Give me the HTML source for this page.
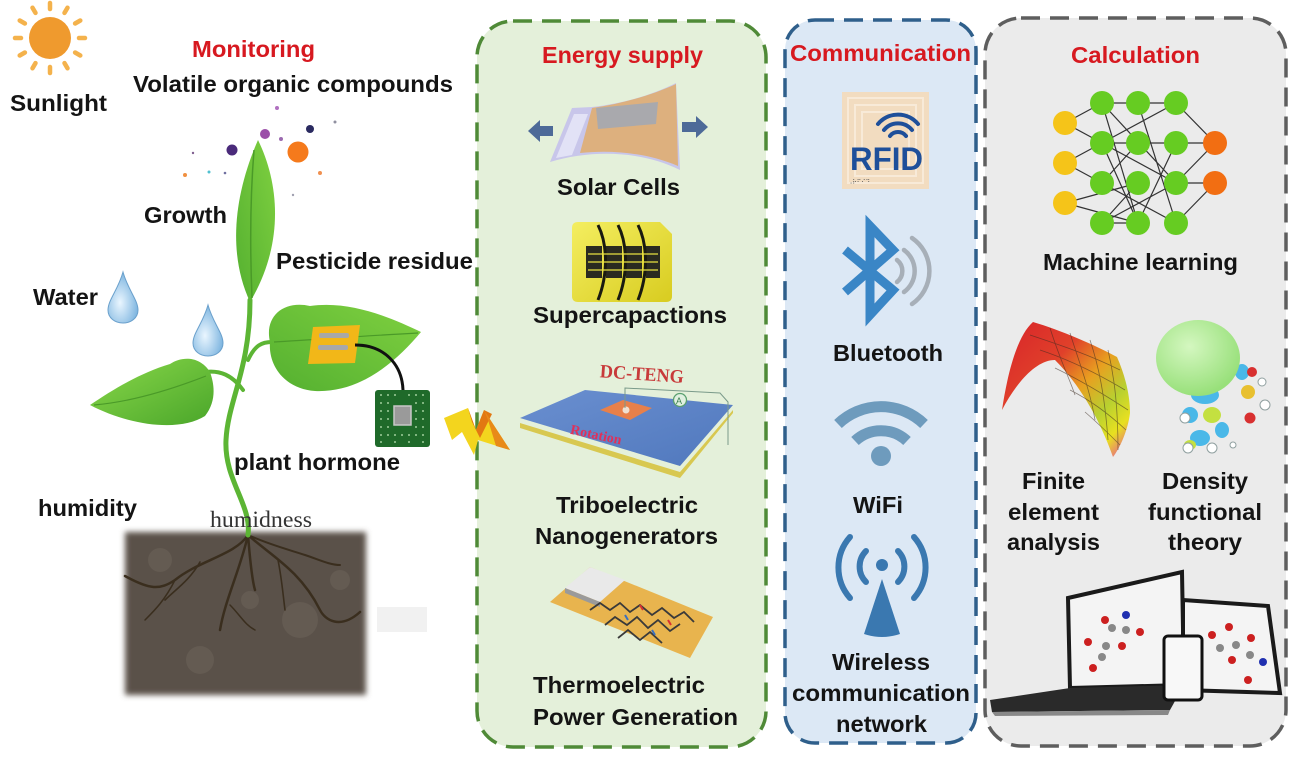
<!DOCTYPE html>
<html><head><meta charset="utf-8"><style>
html,body{margin:0;padding:0;background:#fff;}
svg{display:block;}
.t{font-family:"Liberation Sans",Arial,sans-serif;font-weight:bold;font-size:23px;fill:#141414;}
.r{fill:#d71920;}
</style></head><body>
<svg width="1301" height="760" viewBox="0 0 1301 760" xmlns="http://www.w3.org/2000/svg">
<defs>
<linearGradient id="leafG" x1="0" y1="0" x2="1" y2="1"><stop offset="0" stop-color="#8ad84a"/><stop offset="1" stop-color="#4aa62a"/></linearGradient>
<linearGradient id="leafG2" x1="1" y1="0" x2="0" y2="1"><stop offset="0" stop-color="#7fd040"/><stop offset="1" stop-color="#54b030"/></linearGradient>
<radialGradient id="drop" cx="0.4" cy="0.6" r="0.6"><stop offset="0" stop-color="#eaf6ff"/><stop offset="1" stop-color="#7fb6e0"/></radialGradient>
<filter id="blur" x="-10%" y="-10%" width="120%" height="120%"><feGaussianBlur stdDeviation="3"/></filter>
<linearGradient id="fea" x1="0" y1="0" x2="1" y2="1"><stop offset="0" stop-color="#d8232a"/><stop offset="0.35" stop-color="#e0402a"/><stop offset="0.55" stop-color="#e8a020"/><stop offset="0.72" stop-color="#b8d030"/><stop offset="0.85" stop-color="#e8e020"/><stop offset="1" stop-color="#e83ab0"/></linearGradient>
<radialGradient id="dftG" cx="0.4" cy="0.35" r="0.65"><stop offset="0" stop-color="#d4f7c0"/><stop offset="1" stop-color="#98e07a"/></radialGradient>
<linearGradient id="capG" x1="0" y1="0" x2="1" y2="1"><stop offset="0" stop-color="#f4ee60"/><stop offset="1" stop-color="#d8cc20"/></linearGradient>
<linearGradient id="tengG" x1="0" y1="0" x2="1" y2="1"><stop offset="0" stop-color="#6a8fd0"/><stop offset="1" stop-color="#5078bd"/></linearGradient>
</defs>

<!-- panels -->
<rect x="477" y="21" width="289" height="726" rx="36" fill="#e4f0da" stroke="#4f8a37" stroke-width="3.5" stroke-dasharray="19 10"/>
<rect x="785" y="20" width="191" height="723" rx="30" fill="#dce8f5" stroke="#2f5f8b" stroke-width="3.5" stroke-dasharray="19 10"/>
<rect x="985" y="18" width="301" height="728" rx="36" fill="#ebebeb" stroke="#5e5e5e" stroke-width="3.5" stroke-dasharray="19 10"/>

<!-- sun -->
<g stroke="#f4b24c" stroke-width="4.5" stroke-linecap="round">
<line x1="50" y1="3" x2="50" y2="9"/><line x1="50" y1="67" x2="50" y2="73"/>
<line x1="15" y1="38" x2="21" y2="38"/><line x1="79" y1="38" x2="85" y2="38"/>
<line x1="67.5" y1="7.7" x2="64.5" y2="12.9"/><line x1="32.5" y1="68.3" x2="35.5" y2="63.1"/>
<line x1="80.3" y1="20.5" x2="75.1" y2="23.5"/><line x1="19.7" y1="55.5" x2="24.9" y2="52.5"/>
<line x1="80.3" y1="55.5" x2="75.1" y2="52.5"/><line x1="19.7" y1="20.5" x2="24.9" y2="23.5"/>
<line x1="67.5" y1="68.3" x2="64.5" y2="63.1"/><line x1="32.5" y1="7.7" x2="35.5" y2="12.9"/>
</g>
<circle cx="50" cy="38" r="21" fill="#ef9a2e"/>

<!-- VOC dots -->
<circle cx="265" cy="134" r="5" fill="#9b4ea8"/>
<circle cx="232" cy="150" r="5.5" fill="#4a2a7a"/>
<circle cx="298" cy="152" r="10.5" fill="#f57a1c"/>
<circle cx="310" cy="129" r="4" fill="#2a2a60"/>
<circle cx="277" cy="108" r="2" fill="#b070c0"/>
<circle cx="185" cy="175" r="2" fill="#f09040"/>
<circle cx="209" cy="172" r="1.5" fill="#50c0d0"/>
<circle cx="193" cy="153" r="1.2" fill="#806090"/>
<circle cx="320" cy="173" r="2" fill="#f09050"/>
<circle cx="281" cy="139" r="2" fill="#9b6ab0"/>
<circle cx="335" cy="122" r="1.5" fill="#9090a0"/>
<circle cx="293" cy="195" r="1.2" fill="#a0a0b0"/>
<circle cx="225" cy="173" r="1.3" fill="#7070a0"/>

<!-- soil -->
<rect x="125" y="532" width="241" height="163" fill="#5a514a" filter="url(#blur)"/>
<g fill="#6b6258" opacity="0.6">
<circle cx="160" cy="560" r="12"/><circle cx="300" cy="620" r="18"/><circle cx="200" cy="660" r="14"/><circle cx="340" cy="580" r="10"/><circle cx="250" cy="600" r="9"/>
</g>
<rect x="377" y="607" width="50" height="25" fill="#f1f1f1"/>
<!-- roots -->
<g fill="none" stroke="#3a2e1e" stroke-linecap="round">
<path d="M248,535 C235,555 200,560 175,580 C160,590 150,590 125,576" stroke-width="2.5"/>
<path d="M248,535 C240,570 225,600 220,630" stroke-width="2.5"/>
<path d="M248,535 C250,560 252,580 255,590" stroke-width="2.5"/>
<path d="M248,535 C270,555 300,570 320,610 C325,620 340,630 360,612" stroke-width="2.5"/>
<path d="M248,535 C270,545 290,550 305,555 C320,560 330,565 340,565" stroke-width="2"/>
<path d="M200,562 C190,580 175,590 165,600" stroke-width="1.6"/>
<path d="M278,560 C282,580 283,595 285,610" stroke-width="1.6"/>
<path d="M175,580 C165,600 155,610 145,620" stroke-width="1.5"/>
<path d="M230,605 C240,615 245,625 255,630" stroke-width="1.5"/>
</g>

<!-- stem -->
<g fill="none" stroke="#5cb534" stroke-linecap="round">
<path d="M248,535 C252,505 224,480 226,440 C228,400 250,370 250,300" stroke-width="5"/>
<path d="M243,390 C232,375 220,370 205,372" stroke-width="4"/>
<path d="M248,360 C255,345 262,342 272,342" stroke-width="4"/>
</g>
<!-- leaves -->
<path d="M250,302 C226,250 236,190 258,140 C280,185 284,245 250,302 Z" fill="url(#leafG2)"/>
<path d="M254,150 C250,200 250,250 252,298" stroke="#4a9a28" stroke-width="1.5" fill="none"/>
<path d="M210,372 C200,356 182,356 170,364 C140,373 112,390 90,405 C130,426 180,432 205,416 C216,402 215,386 210,372 Z" fill="url(#leafG)"/>
<path d="M206,376 C170,390 130,402 94,405" stroke="#4a9a28" stroke-width="1.2" fill="none"/>
<path d="M270,342 C264,316 284,300 310,306 C350,300 392,318 421,332 C396,362 360,393 315,391 C285,389 268,366 270,342 Z" fill="url(#leafG2)"/>
<path d="M274,342 C310,340 360,336 418,333" stroke="#4a9a28" stroke-width="1.2" fill="none"/>
<!-- drops -->
<path d="M123,272 C118,290 108,300 108,310 C108,318 115,323 123,323 C131,323 138,318 138,310 C138,300 128,290 123,272 Z" fill="url(#drop)" stroke="#6aa0cc" stroke-width="1"/>
<path d="M208,305 C203,323 193,333 193,343 C193,351 200,356 208,356 C216,356 223,351 223,343 C223,333 213,323 208,305 Z" fill="url(#drop)" stroke="#6aa0cc" stroke-width="1"/>
<!-- sensor -->
<polygon points="313,327 360,325 355,363 308,364" fill="#f2b718"/>
<rect x="319" y="333" width="30" height="5" rx="2" fill="#a8a8a8"/>
<rect x="318" y="345" width="30" height="5" rx="2" fill="#a8a8a8"/>
<path d="M355,345 C385,345 402,365 403,390" fill="none" stroke="#111" stroke-width="3"/>
<!-- chip -->
<rect x="375" y="390" width="55" height="57" rx="3" fill="#1f6a2a"/>
<g fill="#7fb57f">
<rect x="380" y="394" width="2" height="2"/><rect x="387" y="394" width="2" height="2"/><rect x="394" y="394" width="2" height="2"/><rect x="408" y="394" width="2" height="2"/><rect x="415" y="394" width="2" height="2"/><rect x="422" y="394" width="2" height="2"/>
<rect x="380" y="402" width="2" height="2"/><rect x="387" y="402" width="2" height="2"/><rect x="415" y="402" width="2" height="2"/><rect x="422" y="402" width="2" height="2"/>
<rect x="380" y="410" width="2" height="2"/><rect x="387" y="410" width="2" height="2"/><rect x="415" y="410" width="2" height="2"/><rect x="422" y="410" width="2" height="2"/>
<rect x="380" y="418" width="2" height="2"/><rect x="387" y="418" width="2" height="2"/><rect x="415" y="418" width="2" height="2"/><rect x="422" y="418" width="2" height="2"/>
<rect x="380" y="426" width="2" height="2"/><rect x="387" y="426" width="2" height="2"/><rect x="415" y="426" width="2" height="2"/><rect x="422" y="426" width="2" height="2"/>
<rect x="380" y="434" width="2" height="2"/><rect x="387" y="434" width="2" height="2"/><rect x="394" y="434" width="2" height="2"/><rect x="401" y="434" width="2" height="2"/><rect x="408" y="434" width="2" height="2"/><rect x="415" y="434" width="2" height="2"/><rect x="422" y="434" width="2" height="2"/>
<rect x="380" y="441" width="2" height="2"/><rect x="394" y="441" width="2" height="2"/><rect x="408" y="441" width="2" height="2"/><rect x="422" y="441" width="2" height="2"/>
</g>
<rect x="394" y="406" width="17" height="19" fill="#9a9a9a" stroke="#c8c8c8" stroke-width="1.5"/>
<!-- lightning -->
<polygon points="444,418 468,408 476,430 484,410 510,450 478,440 474,455 462,432 452,440" fill="#f3d51e"/>
<polygon points="468,408 476,430 484,410 492,414 480,438 472,422" fill="#e27812"/>
<polygon points="484,410 510,450 496,446 488,420" fill="#e88a18"/>

<!-- left texts -->
<text class="t" x="10" y="111" textLength="97" lengthAdjust="spacingAndGlyphs">Sunlight</text>
<text class="t r" x="192" y="57" textLength="123" lengthAdjust="spacingAndGlyphs">Monitoring</text>
<text class="t" x="133" y="92" textLength="320" lengthAdjust="spacingAndGlyphs">Volatile organic compounds</text>
<text class="t" x="144" y="223" textLength="83" lengthAdjust="spacingAndGlyphs">Growth</text>
<text class="t" x="276" y="269" textLength="197" lengthAdjust="spacingAndGlyphs">Pesticide residue</text>
<text class="t" x="33" y="305" textLength="65" lengthAdjust="spacingAndGlyphs">Water</text>
<text class="t" x="234" y="470" textLength="166" lengthAdjust="spacingAndGlyphs">plant hormone</text>
<text class="t" x="38" y="516" textLength="99" lengthAdjust="spacingAndGlyphs">humidity</text>
<text x="210" y="527" textLength="102" lengthAdjust="spacingAndGlyphs" style="font-family:'Liberation Serif','Times New Roman',serif;font-size:23px;fill:#333">humidness</text>

<!-- energy supply panel -->
<text class="t r" x="542" y="63" textLength="161" lengthAdjust="spacingAndGlyphs">Energy supply</text>
<!-- solar cell -->
<polygon points="528,131 540,120 540,126 553,126 553,136 540,136 540,142" fill="#4d6a98"/>
<polygon points="708,127 696,116 696,122 682,122 682,132 696,132 696,138" fill="#4d6a98"/>
<path d="M550,162 L572,108 L592,107 C620,104 650,96 676,83 L680,170 C640,150 590,150 550,162 Z" fill="#c8c6ea"/>
<path d="M592,108 C620,104 650,96 676,84 L678,166 C645,152 610,150 580,153 Z" fill="#ddb07e"/>
<polygon points="596,108 658,102 656,124 598,129" fill="#a9a9ad"/>
<path d="M556,158 L574,114 L588,114 L572,155 Z" fill="#e2e2f6"/>
<!-- supercap -->
<path d="M572,228 Q572,222 578,222 L660,222 L672,234 L672,296 Q672,302 666,302 L578,302 Q572,302 572,296 Z" fill="url(#capG)"/>
<g fill="#2a2a20">
<rect x="586" y="246" width="16" height="32"/><rect x="606" y="246" width="16" height="32"/><rect x="626" y="246" width="16" height="32"/><rect x="646" y="246" width="14" height="32"/>
</g>
<g fill="none" stroke="#1a1a10" stroke-width="3">
<path d="M598,225 C608,245 608,275 598,300"/><path d="M618,225 C628,245 628,275 618,300"/><path d="M638,225 C648,245 648,275 638,300"/>
</g>
<g stroke="#e8e040" stroke-width="1.2">
<line x1="588" y1="254" x2="658" y2="254"/><line x1="588" y1="262" x2="658" y2="262"/><line x1="588" y1="270" x2="658" y2="270"/>
</g>
<text class="t" x="557" y="195" textLength="123" lengthAdjust="spacingAndGlyphs">Solar Cells</text>
<text class="t" x="533" y="323" textLength="194" lengthAdjust="spacingAndGlyphs">Supercapactions</text>
<!-- TENG -->
<text x="600" y="380" textLength="84" lengthAdjust="spacingAndGlyphs" style="font-family:'Liberation Serif',serif;font-size:19px;fill:#c83a3a;font-weight:bold" transform="rotate(4 640 372)">DC-TENG</text>
<polygon points="520,423 680,472 733,410 733,413 680,478 520,428" fill="#d8c850"/>
<polygon points="520,418 585,390 733,405 680,466" fill="url(#tengG)"/>
<polygon points="600,410 623,400 652,408 630,420" fill="#e8804a"/>
<circle cx="626" cy="410" r="3.5" fill="#f0e0d0"/>
<path d="M625,408 L625,388 L720,393 L728,402 L728,445" fill="none" stroke="#7a9a8a" stroke-width="1"/>
<circle cx="680" cy="400" r="6.5" fill="#e0f0e0" stroke="#5aa070" stroke-width="1.3"/>
<text x="676" y="404" style="font-family:'Liberation Sans',sans-serif;font-size:9px;fill:#3a8050">A</text>
<text x="570" y="440" style="font-family:'Liberation Serif',serif;font-size:14px;font-weight:bold;fill:#e0305a" transform="rotate(12 600 435)">Rotation</text>
<text class="t" x="556" y="513" textLength="142" lengthAdjust="spacingAndGlyphs">Triboelectric</text>
<text class="t" x="535" y="544" textLength="183" lengthAdjust="spacingAndGlyphs">Nanogenerators</text>
<!-- thermoelectric -->
<polygon points="550,602 590,567 713,617 690,658" fill="#e8b44e"/>
<polygon points="565,588 590,567 625,580 600,602" fill="#e9e9e9"/>
<polygon points="565,588 600,602 600,607 565,593" fill="#9a9a9a"/>
<g fill="none" stroke="#3a3a3a" stroke-width="1.8">
<path d="M590,610 L600,603 L610,610 L620,603 L630,612 L640,605 L652,615 L662,608 L674,618 L684,612 L694,622"/>
<path d="M605,625 L615,617 L627,625 L637,617 L648,628 L658,620 L670,631 L680,624"/>
<path d="M618,638 L628,630 L640,640 L650,632 L662,643"/>
</g>
<g stroke="#d83030" stroke-width="2"><line x1="640" y1="605" x2="643" y2="610"/><line x1="668" y1="620" x2="671" y2="625"/></g>
<g stroke="#3a70c0" stroke-width="2"><line x1="652" y1="630" x2="655" y2="635"/><line x1="625" y1="615" x2="628" y2="620"/></g>
<text class="t" x="533" y="693" textLength="172" lengthAdjust="spacingAndGlyphs">Thermoelectric</text>
<text class="t" x="533" y="725" textLength="205" lengthAdjust="spacingAndGlyphs">Power Generation</text>

<!-- communication panel -->
<text class="t r" x="790" y="61" textLength="181" lengthAdjust="spacingAndGlyphs">Communication</text>
<rect x="842" y="92" width="87" height="97" fill="#f2dcc0"/>
<g fill="none" stroke="#f8ead8" stroke-width="2">
<rect x="848" y="98" width="75" height="85"/><rect x="855" y="105" width="61" height="71"/><rect x="862" y="112" width="47" height="57"/>
</g>
<g fill="none" stroke="#1e4f9a" stroke-width="4" stroke-linecap="round">
<path d="M890,136 A10,10 0 0 1 906,136"/>
<path d="M884,130 A18,18 0 0 1 912,130"/>
<path d="M878,124 A26,26 0 0 1 918,124"/>
</g>
<text x="850" y="170" textLength="73" lengthAdjust="spacingAndGlyphs" style="font-family:'Liberation Sans',sans-serif;font-weight:bold;font-size:32px;fill:#1e4f9a">RFID</text>
<text x="848" y="184" style="font-family:'Liberation Sans',sans-serif;font-size:6px;fill:#555">⠠⠗⠋⠊⠙</text>
<!-- bluetooth -->
<path d="M845,250 L893,290 L870,315 L870,226 L893,250 L845,292" fill="none" stroke="#3a86c6" stroke-width="9" stroke-linejoin="miter"/>
<g fill="none" stroke="#a7afb8" stroke-width="4.5" stroke-linecap="round">
<path d="M897,260 A14,14 0 0 1 897,282"/>
<path d="M904,250 A26,26 0 0 1 904,292"/>
<path d="M912,238 A40,40 0 0 1 912,304"/>
</g>
<text class="t" x="833" y="361" textLength="110" lengthAdjust="spacingAndGlyphs">Bluetooth</text>
<!-- wifi -->
<g fill="none" stroke="#6e9bbd" stroke-width="11" stroke-linecap="butt">
<path d="M855,441 A38,38 0 0 1 907,441"/>
<path d="M838,424 A62,62 0 0 1 924,424"/>
</g>
<circle cx="881" cy="456" r="10" fill="#6e9bbd"/>
<text class="t" x="853" y="513" textLength="50" lengthAdjust="spacingAndGlyphs">WiFi</text>
<!-- tower -->
<g fill="none" stroke="#3a78b0" stroke-width="6" stroke-linecap="round">
<path d="M866,551 A22,22 0 0 0 866,582"/>
<path d="M898,551 A22,22 0 0 1 898,582"/>
<path d="M850,537 A46,46 0 0 0 850,598"/>
<path d="M914,537 A46,46 0 0 1 914,598"/>
</g>
<circle cx="882" cy="565" r="6" fill="#3a78b0"/>
<path d="M882,579 L864,634 Q882,640 900,634 Z" fill="#3a78b0"/>
<text class="t" x="832" y="670" textLength="98" lengthAdjust="spacingAndGlyphs">Wireless</text>
<text class="t" x="792" y="701" textLength="178" lengthAdjust="spacingAndGlyphs">communication</text>
<text class="t" x="836" y="732" textLength="91" lengthAdjust="spacingAndGlyphs">network</text>

<!-- calculation panel -->
<text class="t r" x="1071" y="63" textLength="129" lengthAdjust="spacingAndGlyphs">Calculation</text>
<g stroke="#333" stroke-width="1.2">
<line x1="1065" y1="123" x2="1102" y2="103"/><line x1="1065" y1="123" x2="1102" y2="143"/>
<line x1="1065" y1="163" x2="1102" y2="143"/><line x1="1065" y1="163" x2="1102" y2="183"/>
<line x1="1065" y1="203" x2="1138" y2="183"/><line x1="1065" y1="203" x2="1138" y2="223"/>
<line x1="1102" y1="103" x2="1138" y2="103"/><line x1="1138" y1="103" x2="1176" y2="103"/>
<line x1="1102" y1="103" x2="1176" y2="183"/><line x1="1102" y1="103" x2="1138" y2="223"/>
<line x1="1102" y1="143" x2="1176" y2="103"/><line x1="1102" y1="143" x2="1176" y2="183"/>
<line x1="1102" y1="143" x2="1138" y2="223"/><line x1="1102" y1="143" x2="1138" y2="143"/>
<line x1="1102" y1="183" x2="1138" y2="143"/><line x1="1102" y1="183" x2="1176" y2="223"/>
<line x1="1102" y1="223" x2="1138" y2="183"/><line x1="1102" y1="223" x2="1176" y2="183"/>
<line x1="1138" y1="143" x2="1176" y2="143"/><line x1="1138" y1="103" x2="1176" y2="223"/>
<line x1="1138" y1="223" x2="1176" y2="143"/><line x1="1138" y1="223" x2="1102" y2="223"/>
<line x1="1176" y1="103" x2="1215" y2="143"/><line x1="1176" y1="143" x2="1215" y2="143"/>
<line x1="1176" y1="183" x2="1215" y2="183"/><line x1="1176" y1="223" x2="1215" y2="183"/>
<line x1="1176" y1="183" x2="1215" y2="143"/>
</g>
<g fill="#f5c419"><circle cx="1065" cy="123" r="12"/><circle cx="1065" cy="163" r="12"/><circle cx="1065" cy="203" r="12"/></g>
<g fill="#66cc22">
<circle cx="1102" cy="103" r="12"/><circle cx="1102" cy="143" r="12"/><circle cx="1102" cy="183" r="12"/><circle cx="1102" cy="223" r="12"/>
<circle cx="1138" cy="103" r="12"/><circle cx="1138" cy="143" r="12"/><circle cx="1138" cy="183" r="12"/><circle cx="1138" cy="223" r="12"/>
<circle cx="1176" cy="103" r="12"/><circle cx="1176" cy="143" r="12"/><circle cx="1176" cy="183" r="12"/><circle cx="1176" cy="223" r="12"/>
</g>
<g fill="#f26e12"><circle cx="1215" cy="143" r="12"/><circle cx="1215" cy="183" r="12"/></g>
<text class="t" x="1043" y="270" textLength="195" lengthAdjust="spacingAndGlyphs">Machine learning</text>
<!-- FEA -->
<path d="M1002,410 C1008,370 1018,335 1033,322 C1060,330 1095,345 1117,357 C1125,375 1130,395 1130,413 C1128,430 1120,448 1113,457 C1100,420 1080,385 1055,360 C1035,360 1015,385 1002,410 Z" fill="url(#fea)"/>
<g fill="none" stroke="#3a2a20" stroke-width="0.8" opacity="0.55">
<path d="M1030,335 C1060,345 1090,355 1120,370"/><path d="M1040,350 C1070,360 1100,375 1125,390"/><path d="M1055,368 C1080,380 1105,395 1128,410"/><path d="M1070,390 C1090,400 1110,415 1126,430"/><path d="M1085,412 C1100,425 1112,437 1120,445"/>
<path d="M1050,328 C1060,360 1070,380 1075,395"/><path d="M1070,333 C1080,365 1090,390 1095,420"/><path d="M1090,340 C1100,370 1105,400 1108,440"/><path d="M1108,350 C1115,380 1118,410 1118,450"/>
</g>
<!-- DFT -->
<g fill="#4ab8e8">
<ellipse cx="1205" cy="395" rx="14" ry="9"/><ellipse cx="1190" cy="415" rx="8" ry="8"/><ellipse cx="1200" cy="438" rx="10" ry="8"/><ellipse cx="1222" cy="430" rx="7" ry="8"/><ellipse cx="1242" cy="372" rx="7" ry="8"/>
</g>
<ellipse cx="1198" cy="358" rx="42" ry="38" fill="url(#dftG)"/>
<g fill="#c4e040"><ellipse cx="1212" cy="415" rx="9" ry="8"/><ellipse cx="1190" cy="445" rx="6" ry="5"/></g>
<circle cx="1248" cy="392" r="7" fill="#e8c030"/>
<circle cx="1252" cy="372" r="5" fill="#d83030"/>
<circle cx="1250" cy="418" r="5.5" fill="#d83030"/>
<g fill="#ffffff" stroke="#90a0a0" stroke-width="1"><circle cx="1185" cy="418" r="5"/><circle cx="1188" cy="448" r="5"/><circle cx="1212" cy="448" r="5"/><circle cx="1265" cy="405" r="5"/><circle cx="1262" cy="382" r="4"/><circle cx="1233" cy="445" r="3"/></g>
<text class="t" x="1022" y="489" textLength="63" lengthAdjust="spacingAndGlyphs">Finite</text>
<text class="t" x="1008" y="520" textLength="91" lengthAdjust="spacingAndGlyphs">element</text>
<text class="t" x="1007" y="550" textLength="93" lengthAdjust="spacingAndGlyphs">analysis</text>
<text class="t" x="1162" y="489" textLength="86" lengthAdjust="spacingAndGlyphs">Density</text>
<text class="t" x="1148" y="520" textLength="114" lengthAdjust="spacingAndGlyphs">functional</text>
<text class="t" x="1168" y="550" textLength="74" lengthAdjust="spacingAndGlyphs">theory</text>
<!-- devices -->
<polygon points="1068,598 1182,572 1184,685 1070,688" fill="#f4f4f4" stroke="#1a1a1a" stroke-width="4"/>
<polygon points="1070,688 1184,685 1170,710 992,712 990,700" fill="#2a2a2a"/>
<polygon points="992,712 1170,710 1168,715 995,716" fill="#888"/>
<polygon points="1183,600 1268,606 1280,693 1183,690" fill="#f4f4f4" stroke="#1a1a1a" stroke-width="4"/>
<rect x="1164" y="636" width="38" height="64" rx="4" fill="#f8f8f8" stroke="#111" stroke-width="3"/>
<g>
<circle cx="1105" cy="620" r="4" fill="#cc2020"/><circle cx="1126" cy="615" r="4" fill="#2030b0"/><circle cx="1140" cy="632" r="4" fill="#cc2020"/>
<circle cx="1088" cy="642" r="4" fill="#cc2020"/><circle cx="1122" cy="646" r="4" fill="#cc2020"/><circle cx="1093" cy="668" r="4" fill="#cc2020"/>
<circle cx="1112" cy="628" r="4" fill="#888"/><circle cx="1106" cy="646" r="4" fill="#888"/><circle cx="1102" cy="657" r="4" fill="#888"/><circle cx="1126" cy="630" r="4" fill="#888"/>
<circle cx="1212" cy="635" r="4" fill="#cc2020"/><circle cx="1229" cy="627" r="4" fill="#cc2020"/><circle cx="1251" cy="638" r="4" fill="#cc2020"/>
<circle cx="1232" cy="660" r="4" fill="#cc2020"/><circle cx="1248" cy="680" r="4" fill="#cc2020"/><circle cx="1263" cy="662" r="4" fill="#2030b0"/>
<circle cx="1220" cy="648" r="4" fill="#888"/><circle cx="1236" cy="645" r="4" fill="#888"/><circle cx="1250" cy="655" r="4" fill="#888"/>
</g>
</svg>
</body></html>
